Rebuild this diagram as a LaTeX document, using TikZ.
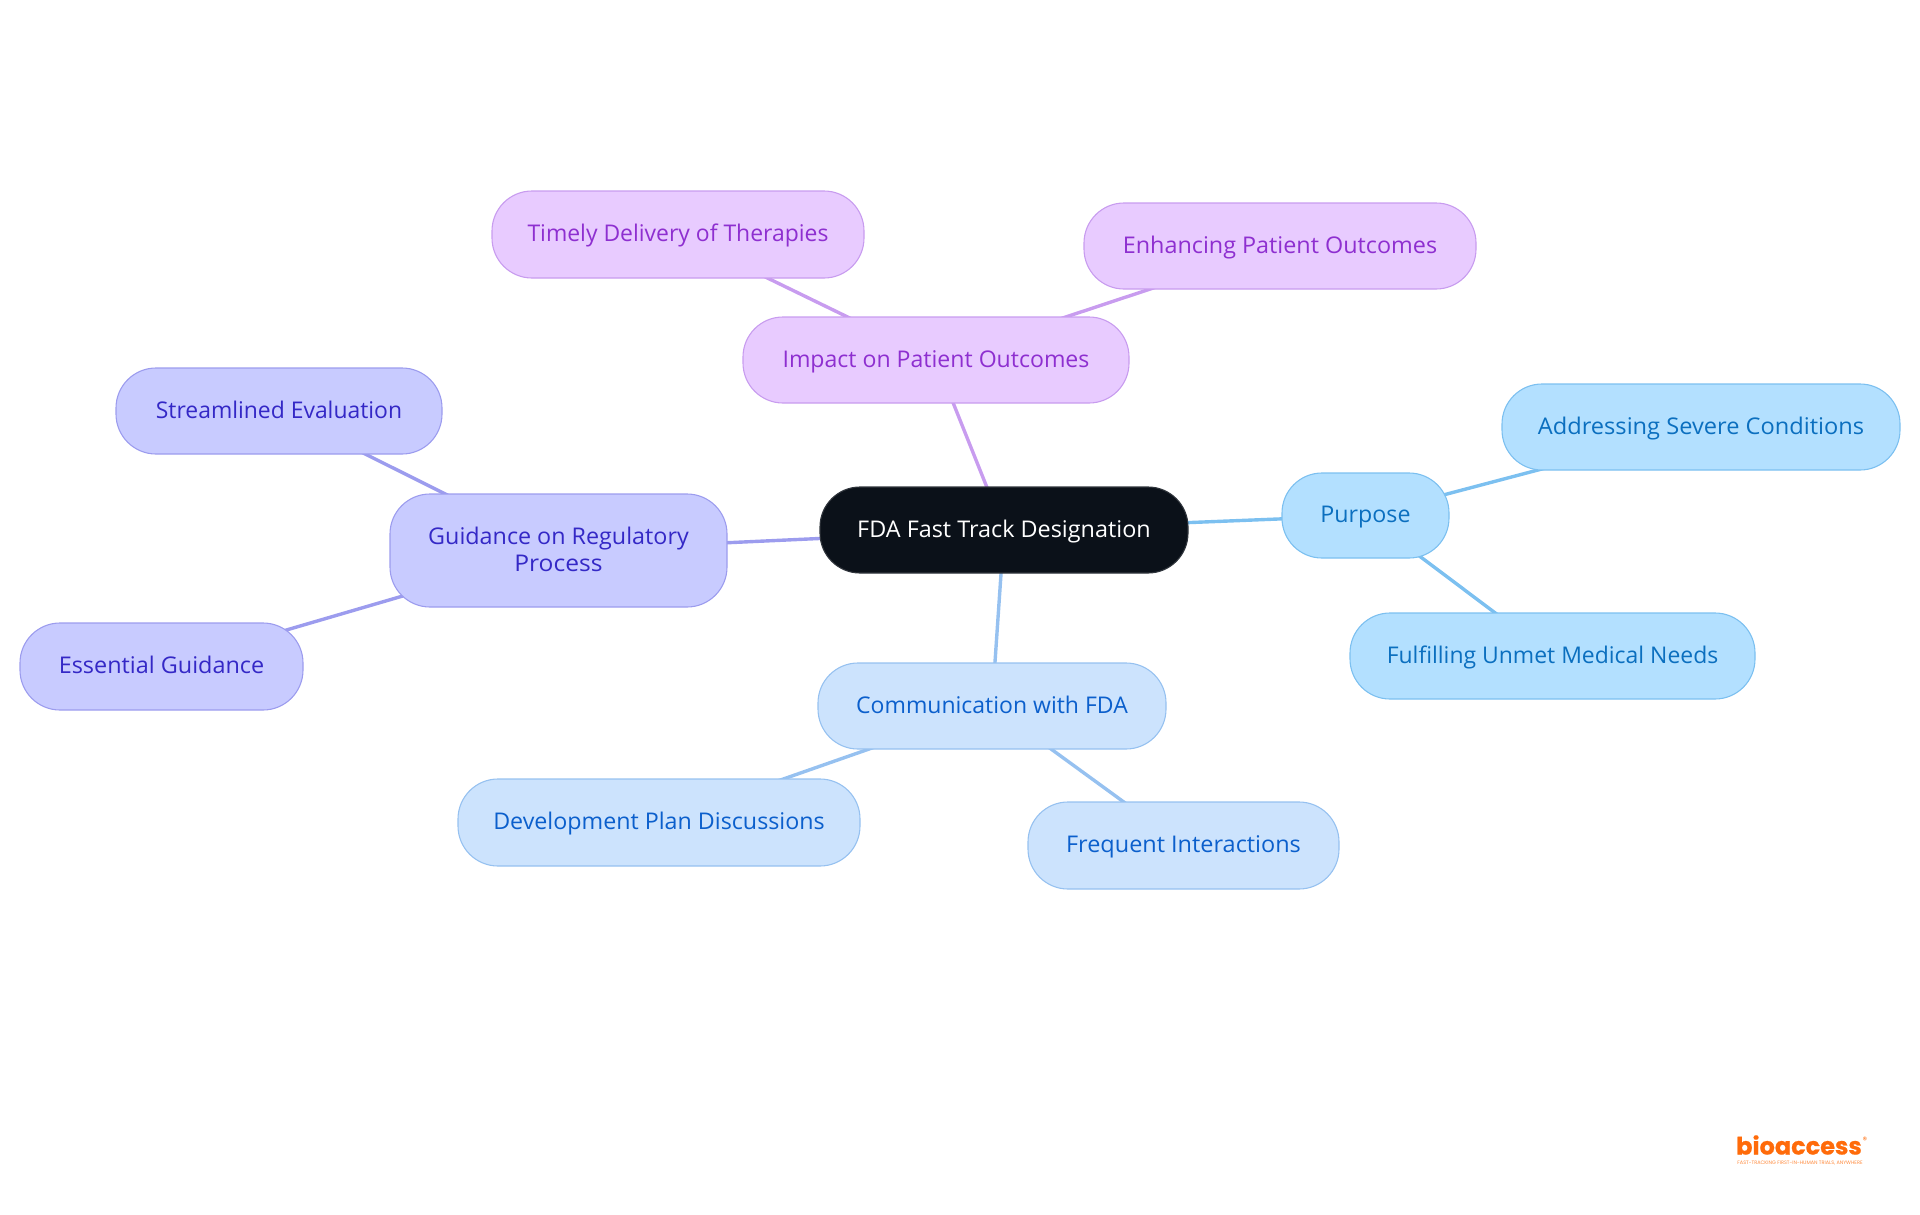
\documentclass[tikz,border=0pt]{standalone}
\usepackage{fontspec}
\setmainfont{Open Sans}
\newfontfamily\logofont{Poppins}
\newfontfamily\logoheavy[BoldFeatures={FakeBold=0.7}]{Poppins}
\usetikzlibrary{backgrounds}
\definecolor{rootfill}{HTML}{0B1119}
\definecolor{pfill}{HTML}{B3E0FF}\definecolor{pline}{HTML}{7CC0F0}\definecolor{ptext}{HTML}{0B6FBF}
\definecolor{ifill}{HTML}{E8CBFF}\definecolor{iline}{HTML}{C89CEF}\definecolor{itext}{HTML}{8E2FD0}
\definecolor{gfill}{HTML}{C8CBFF}\definecolor{gline}{HTML}{9C9CEE}\definecolor{gtext}{HTML}{3428C6}
\definecolor{cfill}{HTML}{CCE3FD}\definecolor{cline}{HTML}{96C1F0}\definecolor{ctext}{HTML}{0B5FCC}
\definecolor{logoorange}{HTML}{FF6B0A}
\tikzset{
 x=1pt,y=-1pt,
 box/.style={rectangle,rounded corners=40pt,line width=1.1pt,inner sep=0pt,align=center,
   font=\fontsize{23}{26}\selectfont},
 rootbox/.style={box,fill=rootfill,draw=rootfill!85!white,text=white},
 pbox/.style={box,fill=pfill,draw=pline,text=ptext},
 ibox/.style={box,fill=ifill,draw=iline,text=itext},
 gbox/.style={box,fill=gfill,draw=gline,text=gtext},
 cbox/.style={box,fill=cfill,draw=cline,text=ctext},
 plink/.style={draw=pline,line width=3.4pt},
 ilink/.style={draw=iline,line width=3.4pt},
 glink/.style={draw=gline,line width=3.4pt},
 clink/.style={draw=cline,line width=3.4pt},
}
\newcommand{\tl}[2]{\rule[-7pt]{0pt}{28pt}\scalebox{#1}[1]{#2}}
\newcommand{\bx}[7]{\node[#1,minimum width=#4pt-#3pt,minimum height=#6pt-#5pt] (#2) at ({(#3+#4)/2},{(#5+#6)/2}) {#7};}
\begin{document}
\begin{tikzpicture}
\useasboundingbox (0,0) rectangle (1920,1215);
\bx{rootbox}{root}{820}{1188}{487}{573}{\tl{1.017}{FDA Fast Track Designation}}
\bx{pbox}{purpose}{1282}{1449}{473}{558}{\tl{1.01}{Purpose}}
\bx{pbox}{severe}{1502}{1900}{384}{470}{\tl{1.027}{Addressing Severe Conditions}}
\bx{pbox}{unmet}{1350}{1755}{613}{699}{\tl{0.998}{Fulfilling Unmet Medical Needs}}
\bx{ibox}{impact}{743}{1129}{317}{403}{\tl{1.004}{Impact on Patient Outcomes}}
\bx{ibox}{timely}{492}{864}{191}{278}{\tl{0.997}{Timely Delivery of Therapies}}
\bx{ibox}{enhance}{1084}{1476}{203}{289}{\tl{1.016}{Enhancing Patient Outcomes}}
\bx{gbox}{guide}{390}{727}{494}{607}{\tl{1.014}{Guidance on Regulatory}\\[-2pt]\tl{1.07}{Process}}
\bx{gbox}{stream}{116}{442}{368}{454}{\tl{0.996}{Streamlined Evaluation}}
\bx{gbox}{essential}{20}{303}{623}{710}{\tl{1.018}{Essential Guidance}}
\bx{cbox}{comm}{818}{1166}{663}{749}{\tl{1.0}{Communication with FDA}}
\bx{cbox}{dev}{458}{860}{779}{866}{\tl{1.011}{Development Plan Discussions}}
\bx{cbox}{freq}{1028}{1339}{802}{889}{\tl{1.02}{Frequent Interactions}}
\begin{scope}[on background layer]
\draw[plink] (root.center) -- (purpose.center);
\draw[plink] (purpose.center) -- (severe.center);
\draw[plink] (purpose.center) -- (unmet.center);
\draw[ilink] (root.center) -- (impact.center);
\draw[ilink] (impact.center) -- (timely.center);
\draw[ilink] (impact.center) -- (enhance.center);
\draw[glink] (root.center) -- (guide.center);
\draw[glink] (guide.center) -- (stream.center);
\draw[glink] (guide.center) -- (essential.center);
\draw[clink] (root.center) -- (comm.center);
\draw[clink] (comm.center) -- (dev.center);
\draw[clink] (comm.center) -- (freq.center);
\end{scope}
\node[anchor=center,text=logoorange,inner sep=0pt,font=\logoheavy\bfseries\fontsize{24}{24}\selectfont] (logo) at (1799,1145) {bioaccess};
\node[anchor=center,text=logoorange,inner sep=0pt,font=\logofont\fontsize{9}{9}\selectfont] (reg) at (1865,1140) {®};
\node[anchor=center,text=logoorange!80,inner sep=0pt,font=\logofont\fontsize{4.95}{5}\selectfont] (tag) at (1800,1163) {FAST-TRACKING FIRST-IN-HUMAN TRIALS, ANYWHERE};
\end{tikzpicture}
\end{document}
